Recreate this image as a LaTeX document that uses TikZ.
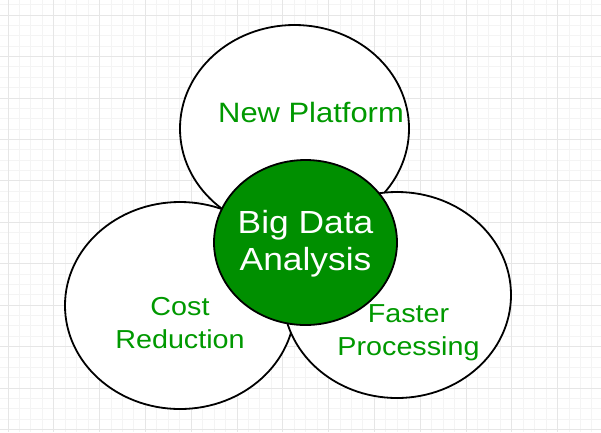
\documentclass[tikz,border=0pt]{standalone}
\usepackage{fontspec}
\setmainfont{Liberation Sans}
\usepackage{xcolor}
\usetikzlibrary{math}

\definecolor{hubgreen}{RGB}{0,143,0}
\definecolor{textgreen}{RGB}{0,153,0}
\definecolor{gridmajor}{RGB}{230,230,230}
\definecolor{gridminor}{RGB}{244,244,244}

\begin{document}
\begin{tikzpicture}[
  x=1pt, y=-1pt,
  line width=1.8pt,
  greentext/.style={text=textgreen, align=center, xscale=1.105, inner sep=0pt},
  ]

  \tikzmath{
    \gx  = 7.8;   % first major grid column
    \gdx = 45.8;  % major grid step, horizontal
    \gy  = 15;    % first major grid row
    \gdy = 41.43; % major grid step, vertical
  }

  \useasboundingbox (0,0) rectangle (601,432);
  \fill[white] (0,0) rectangle (601,432);

  % Background grid
  \begin{scope}[line width=0.6pt]
    \clip (0,0) rectangle (601,432);
    \foreach \i in {-4,...,52}
      \draw[gridminor] ({\gx+\i*\gdx/4},0) -- ({\gx+\i*\gdx/4},432);
    \foreach \i in {-4,...,42}
      \draw[gridminor] (0,{\gy+\i*\gdy/4}) -- (601,{\gy+\i*\gdy/4});
    \foreach \i in {0,...,13}
      \draw[gridmajor] ({\gx+\i*\gdx},0) -- ({\gx+\i*\gdx},432);
    \foreach \i in {0,...,10}
      \draw[gridmajor] (0,{\gy+\i*\gdy}) -- (601,{\gy+\i*\gdy});
  \end{scope}

  % Centres of the bubbles
  \coordinate (platformc) at (294.5,128.6);
  \coordinate (costc)     at (180,305.5);
  \coordinate (fasterc)   at (397,295);
  \coordinate (hubc)      at (305.5,242.5);

  % Outer bubbles
  \filldraw[fill=white] (platformc) ellipse [x radius=114.5, y radius=103.6];
  \filldraw[fill=white] (costc)     ellipse [x radius=115,   y radius=103.5];
  \filldraw[fill=white] (fasterc)   ellipse [x radius=114,   y radius=103];

  % Central bubble
  \filldraw[fill=hubgreen] (hubc) ellipse [x radius=91.5, y radius=82.5];

  % Labels
  \node[greentext, font=\fontsize{28}{34}\selectfont] (platform) at (311,112.5) {New Platform};
  \node[greentext, text=white, font=\fontsize{32}{37}\selectfont] (hub) at (305.5,244) {Big Data\\Analysis};
  \node[greentext, font=\fontsize{26}{33}\selectfont] (cost) at (180,323.5) {Cost\\Reduction};
  \node[greentext, font=\fontsize{26}{33}\selectfont] (faster) at (408.5,332.5) {Faster\\Processing};

\end{tikzpicture}
\end{document}
